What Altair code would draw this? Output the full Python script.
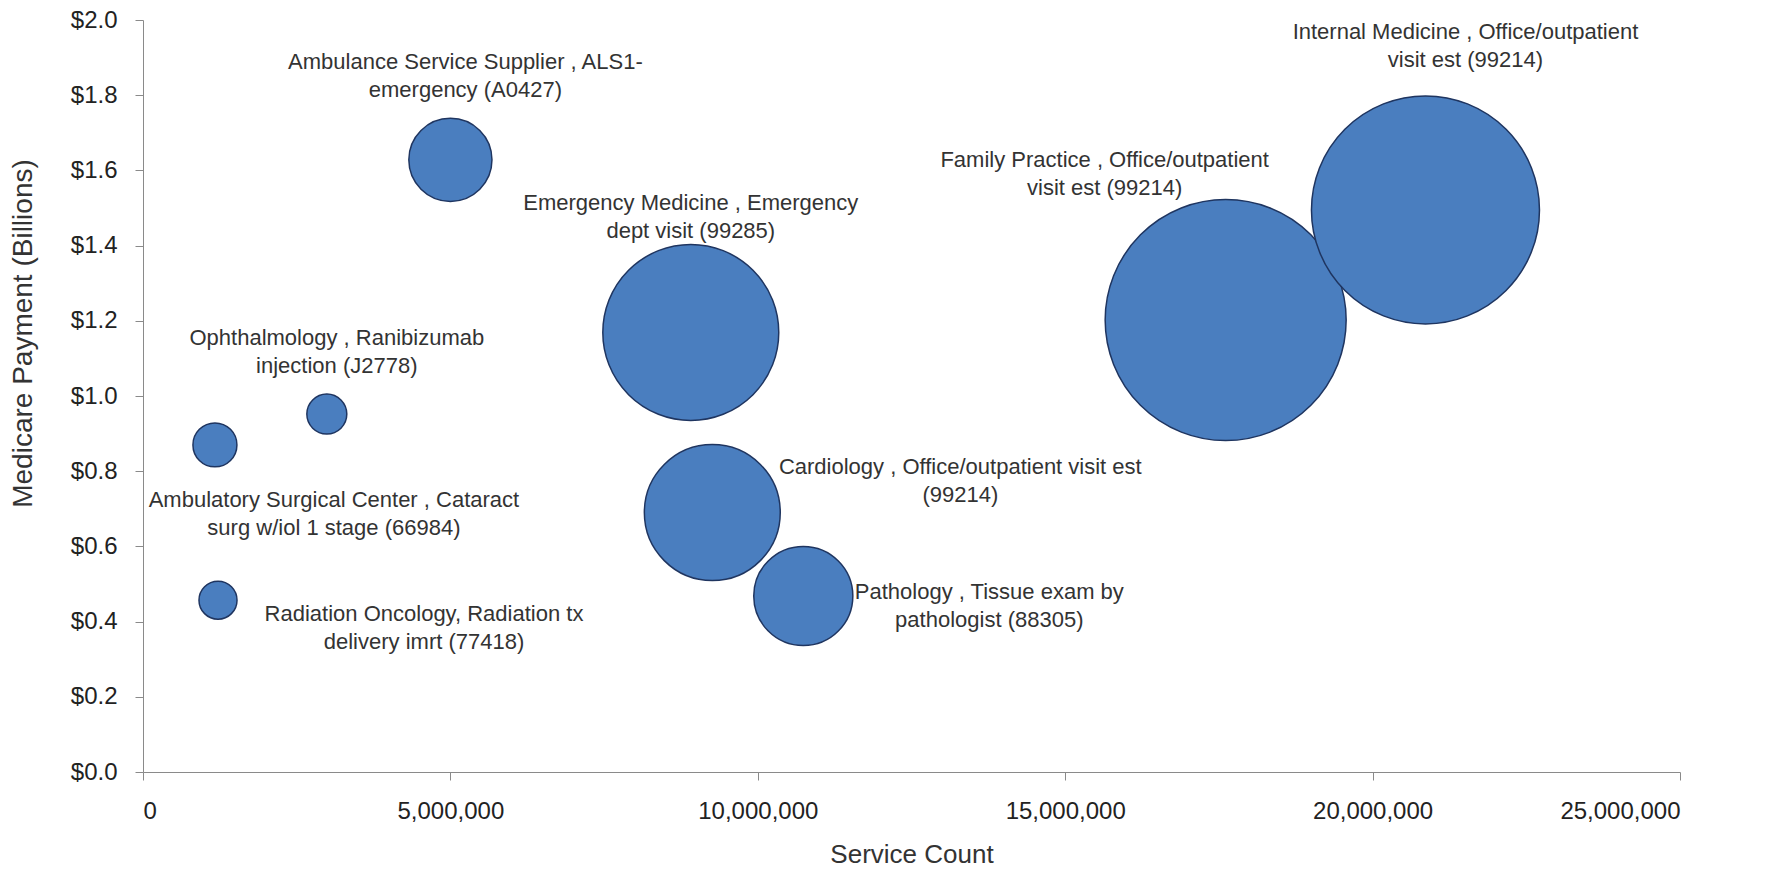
import altair as alt
import pandas as pd

# Top specialty / procedure combinations by Medicare payment
specialty = [
    "Ambulance Service Supplier",
    "Internal Medicine",
    "Family Practice",
    "Emergency Medicine",
    "Cardiology",
    "Pathology",
    "Ophthalmology",
    "Ambulatory Surgical Center",
    "Radiation Oncology",
]
label_text = [
    "Ambulance Service Supplier , ALS1-\nemergency (A0427)",
    "Internal Medicine , Office/outpatient\nvisit est (99214)",
    "Family Practice , Office/outpatient\nvisit est (99214)",
    "Emergency Medicine , Emergency\ndept visit (99285)",
    "Cardiology , Office/outpatient visit est\n(99214)",
    "Pathology , Tissue exam by\npathologist (88305)",
    "Ophthalmology , Ranibizumab\ninjection (J2778)",
    "Ambulatory Surgical Center , Cataract\nsurg w/iol 1 stage (66984)",
    "Radiation Oncology, Radiation tx\ndelivery imrt (77418)",
]
service_count = [5.0e6, 20.86e6, 17.61e6, 8.91e6, 9.26e6, 10.74e6, 2.99e6, 1.17e6, 1.22e6]
payment_billions = [1.628, 1.495, 1.202, 1.169, 0.690, 0.468, 0.952, 0.870, 0.457]
bubble_size = [11.9, 89.5, 100.0, 53.3, 31.8, 16.9, 2.75, 3.33, 2.49]

# Label placement relative to each bubble (pixels, first line of the label)
label_offsets = {
    "Ambulance Service Supplier": (15, -98),
    "Internal Medicine": (40, -178),
    "Family Practice": (-121, -160),
    "Emergency Medicine": (0, -129),
    "Cardiology": (248, -46),
    "Pathology": (186, -4),
    "Ophthalmology": (10, -76),
    "Ambulatory Surgical Center": (119, 55),
    "Radiation Oncology": (206, 14),
}

df = pd.DataFrame({
    "specialty": specialty,
    "label": label_text,
    "service_count": service_count,
    "payment": payment_billions,
    "size": bubble_size,
})

FONT = "Liberation Sans, Arial, sans-serif"
AXIS_GRAY = "#8a8a8a"

x_enc = alt.X(
    "service_count:Q",
    scale=alt.Scale(domain=[0, 25e6], nice=False, zero=True),
    axis=alt.Axis(
        title="Service Count",
        values=[0, 5e6, 10e6, 15e6, 20e6, 25e6],
        format=",d",
        grid=False,
        domainColor=AXIS_GRAY,
        tickColor=AXIS_GRAY,
        tickSize=8,
        labelFontSize=24,
        labelPadding=19,
        labelColor="#222222",
        titleFontSize=26,
        titleFontWeight="normal",
        titleColor="#333333",
        titleBaseline="alphabetic",
        titleY=90,
    ),
)
y_enc = alt.Y(
    "payment:Q",
    scale=alt.Scale(domain=[0, 2.0], nice=False, zero=True),
    axis=alt.Axis(
        title="Medicare Payment (Billions)",
        values=[0, 0.2, 0.4, 0.6, 0.8, 1.0, 1.2, 1.4, 1.6, 1.8, 2.0],
        format="$.1f",
        grid=False,
        domainColor=AXIS_GRAY,
        tickColor=AXIS_GRAY,
        tickSize=8,
        labelFontSize=24,
        labelPadding=18,
        labelColor="#222222",
        titleFontSize=28,
        titleFontWeight="normal",
        titleColor="#333333",
        titleAngle=270,
        titleAlign="center",
        titleBaseline="alphabetic",
        titleX=-112,
        titleY=313,
    ),
)

# Circle symbols: radius = sqrt(size) / 2, so the range is 4 * r_max^2
bubbles = alt.Chart(df).mark_circle(
    color="#4A7EBF",
    opacity=1,
    stroke="#1F3560",
    strokeWidth=1.5,
).encode(
    x=x_enc,
    y=y_enc,
    size=alt.Size(
        "size:Q",
        scale=alt.Scale(type="linear", domain=[0, 100], range=[0, 58081]),
        legend=None,
    ),
    order=alt.Order("size:Q", sort="descending"),
)

label_layers = []
for name, (dx, dy) in label_offsets.items():
    label_layers.append(
        alt.Chart(df[df["specialty"] == name]).mark_text(
            dx=dx,
            dy=dy,
            align="center",
            baseline="middle",
            lineBreak="\n",
            lineHeight=28,
            fontSize=22,
            font=FONT,
            color="#333333",
        ).encode(
            x=alt.X("service_count:Q"),
            y=alt.Y("payment:Q"),
            text="label:N",
        )
    )

chart = alt.layer(bubbles, *label_layers).properties(
    width=1537,
    height=752,
    autosize=alt.AutoSizeParams(type="none"),
    padding={"left": 143, "top": 20, "right": 85, "bottom": 97},
    background="white",
).configure(font=FONT).configure_view(strokeWidth=0)

chart.save("out.html", embed_options={"renderer": "svg", "actions": False})
